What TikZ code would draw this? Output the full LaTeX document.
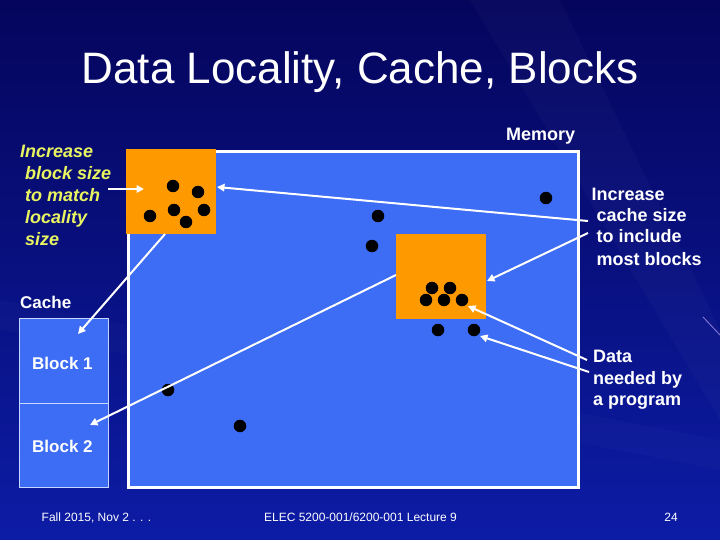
\documentclass[tikz,border=0pt]{standalone}
\usepackage{fontspec}
\setmainfont{Liberation Sans}
\usetikzlibrary{arrows.meta}
\definecolor{bgdark}{RGB}{5,5,92}
\definecolor{bglight}{RGB}{12,28,165}
\definecolor{memblue}{RGB}{61,108,245}
\definecolor{blkorange}{RGB}{255,153,0}
\definecolor{hiyellow}{RGB}{232,244,96}
\definecolor{cacheline}{RGB}{200,215,255}
\tikzset{
  dot/.style={circle,fill=black,inner sep=0pt,minimum size=12.5pt},
  arr/.style={draw=white,line width=2pt,-{Triangle[length=7.5pt,width=7.5pt]}},
  lbl/.style={anchor=base west,inner sep=0pt,text=white,font=\fontsize{18}{22}\selectfont\bfseries},
  ylbl/.style={anchor=base west,inner sep=0pt,text=hiyellow,font=\fontsize{18}{22}\selectfont\bfseries\itshape},
  foot/.style={anchor=base,inner sep=0pt,text=white,font=\fontsize{12}{14}\selectfont},
  cachebox/.style={draw=cacheline,line width=0.8pt,fill=memblue,minimum width=89pt,minimum height=84.5pt,inner sep=0pt,anchor=north west},
  orangebox/.style={fill=blkorange,inner sep=0pt,anchor=north west}
}
\begin{document}
\begin{tikzpicture}[x=1pt,y=-1pt]
\useasboundingbox (0,0) rectangle (720,540);
% background
\shade[left color=bgdark,right color=bglight,shading angle=0] (0,0) rectangle (720,540);
\fill[white,opacity=0.025] (470,0) -- (560,0) -- (720,330) -- (720,420) -- cycle;
\fill[white,opacity=0.02] (0,300) -- (720,440) -- (720,470) -- (0,330) -- cycle;
\draw[color={rgb,255:red,200;green,170;blue,255},line width=0.8pt,opacity=0.7] (703,317) -- (720,335);

% title
\node[anchor=base,inner sep=0pt,text=white,font=\fontsize{44}{50}\selectfont] (title) at (360,84) {Data Locality, Cache, Blocks};

% memory
\node[draw=white,line width=3pt,fill=memblue,minimum width=450pt,minimum height=336pt,inner sep=0pt,anchor=north west] (mem) at (127,150) {};
\node[lbl] (memlbl) at (506,141) {Memory};

% orange blocks
\node[orangebox,minimum width=90pt,minimum height=85pt] (blk1) at (126,149) {};
\node[orangebox,minimum width=90pt,minimum height=85pt] (blk2) at (396,234) {};

% dots
\foreach \n/\x/\y in {a/173/186,b/198/192,c/150/216,d/174/210,e/204/210,f/186/222,
  g/546/198,h/378/216,i/372/246,
  j/432/288,k/450/288,l/426/300,m/444/300,n/462/300,o/438/330,p/474/330,
  q/168/390,r/240/426}
  \node[dot] (d\n) at (\x,\y) {};

% cache
\node[anchor=base west,inner sep=0pt,text=white,font=\fontsize{17}{20}\selectfont\bfseries] (cachelbl) at (20,308) {Cache};
\node[cachebox] (cb1) at (19,318) {};
\node[cachebox] (cb2) at (19,402.5) {};
\node[anchor=base west,inner sep=0pt,text=white,font=\fontsize{17}{20}\selectfont\bfseries] (b1lbl) at (32,369) {Block 1};
\node[anchor=base west,inner sep=0pt,text=white,font=\fontsize{17}{20}\selectfont\bfseries] (b2lbl) at (32,452) {Block 2};

% left yellow text
\node[ylbl] (y1) at (20,158) {Increase};
\node[ylbl] (y2) at (25,180) {block size};
\node[ylbl] (y3) at (25,201.5) {to match};
\node[ylbl] (y4) at (25,223) {locality};
\node[ylbl] (y5) at (25,245) {size};

% right text
\node[lbl] (r1) at (591.5,200.5) {Increase};
\node[lbl] (r2) at (596.5,221.5) {cache size};
\node[lbl] (r3) at (596.5,243) {to include};
\node[lbl] (r4) at (596.5,265) {most blocks};

\node[lbl] (s1) at (593,362.5) {Data};
\node[lbl] (s2) at (593,384) {needed by};
\node[lbl] (s3) at (593,405) {a program};

% arrow endpoints
\coordinate (a1s) at (108,189);
\coordinate (a1e) at (144,189);
\coordinate (a2s) at (588,221);
\coordinate (a2e) at (217,187);
\coordinate (a3s) at (588,233);
\coordinate (a3e) at (487,281);
\coordinate (a4s) at (587,360);
\coordinate (a4e) at (468,306);
\coordinate (a5s) at (589,372);
\coordinate (a5e) at (480,336);
\coordinate (a6s) at (165,234);
\coordinate (a6e) at (78,334);
\coordinate (a7s) at (396,275);
\coordinate (a7e) at (90,425);

\draw[arr] (a1s) -- (a1e);
\draw[arr] (a2s) -- (a2e);
\draw[arr] (a3s) -- (a3e);
\draw[arr] (a4s) -- (a4e);
\draw[arr] (a5s) -- (a5e);
\draw[arr] (a6s) -- (a6e);
\draw[arr] (a7s) -- (a7e);

% footer
\node[foot] (f1) at (96.5,521) {Fall 2015, Nov 2 . . .};
\node[foot] (f2) at (360.5,521) {ELEC 5200-001/6200-001 Lecture 9};
\node[foot] (f3) at (671,521) {24};
\end{tikzpicture}
\end{document}
